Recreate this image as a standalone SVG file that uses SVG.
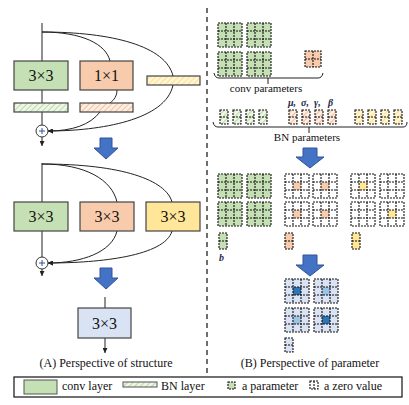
<svg xmlns="http://www.w3.org/2000/svg" xmlns:xlink="http://www.w3.org/1999/xlink" width="409" height="405" viewBox="0 0 409 405" font-family="'Liberation Serif', 'DejaVu Serif', serif">
<defs>
<style>
.t{font-family:'Liberation Serif','DejaVu Serif',serif;fill:#111}
.bt{font-family:'Liberation Serif','DejaVu Serif',serif;font-size:16px;text-anchor:middle;fill:#111}
.box{stroke:#444;stroke-width:1.2}
.ln{fill:none;stroke:#222;stroke-width:1}
.dl{fill:none;stroke:#111;stroke-width:1.1;stroke-dasharray:2 1}
.gr{fill:#c5e0b4}.or{fill:#f8cbad}.ye{fill:#ffe699}.bl{fill:#dae3f3}
.gk{font-family:'Liberation Serif','DejaVu Serif',serif;font-size:10px;font-weight:bold;font-style:italic;fill:#1f2a4a}
.arr{fill:#4472c4;stroke:#2f5597;stroke-width:1}
</style>
<pattern id="hg" width="4" height="4" patternUnits="userSpaceOnUse" patternTransform="rotate(45)"><rect width="4" height="4" fill="#eef6e8"/><line x1="0" y1="0" x2="0" y2="4" stroke="#a9d18e" stroke-width="1.5"/></pattern>
<pattern id="ho" width="4" height="4" patternUnits="userSpaceOnUse" patternTransform="rotate(45)"><rect width="4" height="4" fill="#fdeee4"/><line x1="0" y1="0" x2="0" y2="4" stroke="#f4b183" stroke-width="1.5"/></pattern>
<pattern id="hy" width="4" height="4" patternUnits="userSpaceOnUse" patternTransform="rotate(45)"><rect width="4" height="4" fill="#fff6d9"/><line x1="0" y1="0" x2="0" y2="4" stroke="#ffd966" stroke-width="1.5"/></pattern>
<marker id="ah" markerWidth="5" markerHeight="5" refX="5" refY="2.5" orient="auto" markerUnits="userSpaceOnUse"><path d="M0,0 L5,2.5 L0,5 z" fill="#222"/></marker>
<g id="g3"><rect class="dl" x="0" y="0" width="24" height="24"/><path class="dl" d="M8,0V24M16,0V24M0,8H24M0,16H24"/></g>
<g id="g2"><rect class="dl" x="0" y="0" width="16" height="16"/><path class="dl" d="M8,0V16M0,8H16"/></g>
<g id="c2"><rect class="dl" x="0" y="0" width="8" height="14"/><path class="dl" d="M0,7H8"/></g>
<g id="c16"><rect class="dl" x="0" y="0" width="8" height="16"/><path class="dl" d="M0,8H8"/></g>
</defs>
<rect width="409" height="405" fill="#fff"/>

<!-- connectors -->
<g id="connectors">
<path class="ln" d="M42,23V61M42,90V103M42,112V125"/>
<path class="ln" d="M42,137V146" marker-end="url(#ah)"/>
<path class="ln" d="M42,32 C82,32 106,44 110,61"/>
<path class="ln" d="M42,32 C112,32 166,46 173,76"/>
<path class="ln" d="M117,90 C117,96 114,100 110,103"/>
<path class="ln" d="M100,112 C90,125 72,131 48,131" marker-end="url(#ah)"/>
<path class="ln" d="M173,85 C166,120 100,131 48,131" marker-end="url(#ah)"/>
<path class="ln" d="M42,163V202M42,231V257"/>
<path class="ln" d="M42,269V276" marker-end="url(#ah)"/>
<path class="ln" d="M42,164 C86,164 112,180 117,202"/>
<path class="ln" d="M42,164 C122,164 166,180 172,202"/>
<path class="ln" d="M117,231 C112,252 82,263 48,263" marker-end="url(#ah)"/>
<path class="ln" d="M172,231 C165,256 100,263 48,263" marker-end="url(#ah)"/>
<path class="ln" d="M105,297V308"/>
<path class="ln" d="M105,338V353" marker-end="url(#ah)"/>
</g>

<!-- structure (A) -->
<g id="s1-conv3"><rect class="box gr" x="14" y="61" width="54" height="29"/><text class="bt" x="41" y="81">3×3</text></g>
<g id="s1-conv1"><rect class="box or" x="80" y="61" width="53" height="29"/><text class="bt" x="106.5" y="81">1×1</text></g>
<g id="s1-bn-id"><rect class="box" x="147" y="76" width="53" height="9" fill="url(#hy)"/></g>
<g id="s1-bn3"><rect class="box" x="14" y="103" width="54" height="9" fill="url(#hg)"/></g>
<g id="s1-bn1"><rect class="box" x="80" y="103" width="53" height="9" fill="url(#ho)"/></g>
<g id="s1-add"><circle cx="42" cy="131" r="6" fill="#fff" stroke="#333" stroke-width="1"/><path d="M39,131H45M42,128V134" stroke="#2f5597" stroke-width="1"/></g>

<g id="arrow-a1"><polygon class="arr" points="100,138 112,138 112,148 118,148 106,159 94,148 100,148"/></g>

<g id="s2-conv3a"><rect class="box gr" x="14" y="202" width="54" height="29"/><text class="bt" x="41" y="222">3×3</text></g>
<g id="s2-conv3b"><rect class="box or" x="80" y="202" width="54" height="29"/><text class="bt" x="107" y="222">3×3</text></g>
<g id="s2-conv3c"><rect class="box ye" x="146" y="202" width="54" height="29"/><text class="bt" x="173" y="222">3×3</text></g>
<g id="s2-add"><circle cx="42" cy="263" r="6" fill="#fff" stroke="#333" stroke-width="1"/><path d="M39,263H45M42,260V266" stroke="#2f5597" stroke-width="1"/></g>

<g id="arrow-a2"><polygon class="arr" points="100,268 112,268 112,278 118,278 106,289 94,278 100,278"/></g>

<g id="s3-conv"><rect class="box bl" x="78" y="308" width="53" height="30"/><text class="bt" x="104.5" y="329">3×3</text></g>

<text class="t" x="106" y="367" font-size="12" text-anchor="middle">(A) Perspective of structure</text>

<!-- divider -->
<line x1="207" y1="8" x2="207" y2="373" stroke="#222" stroke-width="1.3" stroke-dasharray="5 4"/>

<!-- parameter (B) -->
<g id="p-conv">
<rect class="gr" x="218" y="23" width="24" height="24"/><use xlink:href="#g3" x="218" y="23"/>
<rect class="gr" x="247" y="23" width="24" height="24"/><use xlink:href="#g3" x="247" y="23"/>
<rect class="gr" x="218" y="52" width="24" height="24"/><use xlink:href="#g3" x="218" y="52"/>
<rect class="gr" x="247" y="52" width="24" height="24"/><use xlink:href="#g3" x="247" y="52"/>
<rect class="or" x="305" y="51" width="16" height="16"/><use xlink:href="#g2" x="305" y="51"/>
<path class="ln" d="M214,73 Q215,78 219,78 H318 Q322,78 323,73 M268,78V84"/>
<text class="t" x="266" y="92" font-size="11" text-anchor="middle">conv parameters</text>
</g>

<g id="p-bn">
<text class="gk" x="288" y="106">μ,</text>
<text class="gk" x="301" y="106">σ,</text>
<text class="gk" x="314" y="106">γ,</text>
<text class="gk" x="328" y="106">β</text>
<rect x="220" y="110" width="8" height="14" fill="url(#hg)"/><use xlink:href="#c2" x="220" y="110"/>
<rect x="233" y="110" width="8" height="14" fill="url(#hg)"/><use xlink:href="#c2" x="233" y="110"/>
<rect x="246" y="110" width="8" height="14" fill="url(#hg)"/><use xlink:href="#c2" x="246" y="110"/>
<rect x="259" y="110" width="8" height="14" fill="url(#hg)"/><use xlink:href="#c2" x="259" y="110"/>
<rect x="289" y="110" width="8" height="14" fill="url(#ho)"/><use xlink:href="#c2" x="289" y="110"/>
<rect x="302" y="110" width="8" height="14" fill="url(#ho)"/><use xlink:href="#c2" x="302" y="110"/>
<rect x="315" y="110" width="8" height="14" fill="url(#ho)"/><use xlink:href="#c2" x="315" y="110"/>
<rect x="328" y="110" width="8" height="14" fill="url(#ho)"/><use xlink:href="#c2" x="328" y="110"/>
<rect x="355" y="110" width="8" height="14" fill="url(#hy)"/><use xlink:href="#c2" x="355" y="110"/>
<rect x="368" y="110" width="8" height="14" fill="url(#hy)"/><use xlink:href="#c2" x="368" y="110"/>
<rect x="381" y="110" width="8" height="14" fill="url(#hy)"/><use xlink:href="#c2" x="381" y="110"/>
<rect x="394" y="110" width="8" height="14" fill="url(#hy)"/><use xlink:href="#c2" x="394" y="110"/>
<path class="ln" d="M213,122 Q214,127 218,127 H403 Q407,127 407,122 M309,127V133"/>
<text class="t" x="307" y="141" font-size="11" text-anchor="middle">BN parameters</text>
</g>

<g id="arrow-b1"><polygon class="arr" points="303,148 317,148 317,157 324,157 310,168 296,157 303,157"/></g>

<g id="p-fused-green">
<rect class="gr" x="218" y="174" width="24" height="24"/><use xlink:href="#g3" x="218" y="174"/>
<rect class="gr" x="247" y="174" width="24" height="24"/><use xlink:href="#g3" x="247" y="174"/>
<rect class="gr" x="218" y="202" width="24" height="24"/><use xlink:href="#g3" x="218" y="202"/>
<rect class="gr" x="247" y="202" width="24" height="24"/><use xlink:href="#g3" x="247" y="202"/>
<rect class="gr" x="219" y="233" width="8" height="16"/><use xlink:href="#c16" x="219" y="233"/>
<text class="gk" x="219" y="261" fill="#1f3864">b</text>
</g>

<g id="p-fused-orange">
<rect class="or" x="293" y="182" width="8" height="8"/><use xlink:href="#g3" x="285" y="174"/>
<rect class="or" x="321" y="182" width="8" height="8"/><use xlink:href="#g3" x="313" y="174"/>
<rect class="or" x="293" y="210" width="8" height="8"/><use xlink:href="#g3" x="285" y="202"/>
<rect class="or" x="321" y="210" width="8" height="8"/><use xlink:href="#g3" x="313" y="202"/>
<rect class="or" x="285" y="233" width="8" height="16"/><use xlink:href="#c16" x="285" y="233"/>
</g>

<g id="p-fused-yellow">
<rect class="ye" x="359" y="182" width="8" height="8"/><use xlink:href="#g3" x="351" y="174"/>
<use xlink:href="#g3" x="380" y="174"/>
<use xlink:href="#g3" x="351" y="202"/>
<rect class="ye" x="388" y="210" width="8" height="8"/><use xlink:href="#g3" x="380" y="202"/>
<rect class="ye" x="352" y="233" width="8" height="16"/><use xlink:href="#c16" x="352" y="233"/>
</g>

<g id="arrow-b2"><polygon class="arr" points="303,255 317,255 317,265 324,265 310,276 296,265 303,265"/></g>

<g id="p-merged">
<rect class="bl" x="285" y="279" width="24" height="24"/><rect x="293" y="287" width="8" height="8" fill="#2e75b6"/><use xlink:href="#g3" x="285" y="279"/>
<rect class="bl" x="314" y="279" width="24" height="24"/><rect x="322" y="287" width="8" height="8" fill="#9dc3e6"/><use xlink:href="#g3" x="314" y="279"/>
<rect class="bl" x="285" y="308" width="24" height="24"/><rect x="293" y="316" width="8" height="8" fill="#9dc3e6"/><use xlink:href="#g3" x="285" y="308"/>
<rect class="bl" x="314" y="308" width="24" height="24"/><rect x="322" y="316" width="8" height="8" fill="#2e75b6"/><use xlink:href="#g3" x="314" y="308"/>
<rect class="bl" x="285" y="338" width="8" height="14"/><use xlink:href="#c2" x="285" y="338"/>
</g>

<text class="t" x="310" y="367" font-size="12" text-anchor="middle">(B) Perspective of parameter</text>

<!-- legend -->
<g id="legend">
<rect x="14" y="377" width="388" height="20" fill="#fff" stroke="#111" stroke-width="1.2"/>
<rect class="gr" x="24" y="380" width="33" height="14" stroke="#555" stroke-width="1"/>
<text class="t" x="62" y="390" font-size="12">conv layer</text>
<rect x="123" y="382" width="34" height="5" fill="url(#hg)" stroke="#555" stroke-width="1"/>
<text class="t" x="161" y="390" font-size="12">BN layer</text>
<rect class="gr" x="228" y="382" width="7" height="7"/><rect class="dl" x="228" y="382" width="7" height="7"/>
<text class="t" x="242" y="390" font-size="12">a parameter</text>
<rect class="dl" x="310" y="381" width="8" height="8"/><path class="dl" d="M314,381V389"/>
<text class="t" x="324" y="390" font-size="12">a zero value</text>
</g>
</svg>
